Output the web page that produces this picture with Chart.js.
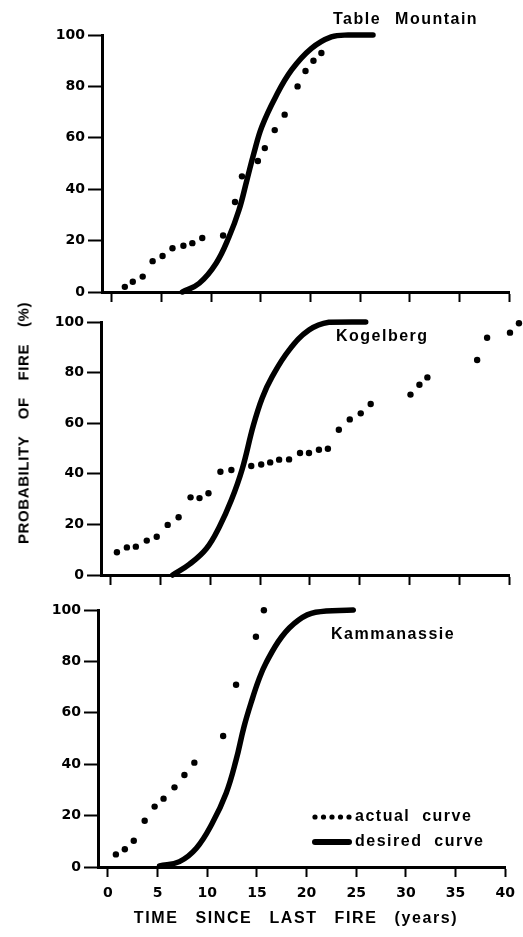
<!DOCTYPE html>
<html>
<head>
<meta charset="utf-8">
<script src="https://cdn.jsdelivr.net/npm/chart.js@4.4.1/dist/chart.umd.min.js"></script>
<style>
    body { margin: 0; background: #fff; }
    .wrap { position: relative; width: 523px; height: 937px; overflow: hidden; }
    .wrap canvas { position: absolute; left: 0; top: 0; }
    .label {
        position: absolute;
        font-family: 'Liberation Sans', Arial, sans-serif;
        font-weight: bold;
        color: #000;
        white-space: nowrap;
        line-height: 1;
    }
    .site { font-size: 16px; letter-spacing: 1.5px; word-spacing: 8px; transform: translateY(-50%); }
    #y-title {
        left: 23px; top: 423px; font-size: 15px; letter-spacing: 0.6px; word-spacing: 12px;
        transform: translate(-50%, -50%) rotate(-90deg);
    }
    #x-title {
        left: 296px; top: 918px; font-size: 16px; letter-spacing: 1.6px; word-spacing: 11px;
        transform: translate(-50%, -50%);
    }
</style>
</head>
<body>
<div class="wrap">
    <canvas id="chart-1" width="523" height="937"></canvas>
    <canvas id="chart-2" width="523" height="937"></canvas>
    <canvas id="chart-3" width="523" height="937"></canvas>
    <div class="label site" style="left:333px; top:19px">Table Mountain</div>
    <div class="label site" style="left:336px; top:336px">Kogelberg</div>
    <div class="label site" style="left:331px; top:634px">Kammanassie</div>
    <div class="label" id="y-title">PROBABILITY OF FIRE (%)</div>
    <div class="label" id="x-title">TIME SINCE LAST FIRE (years)</div>
</div>
<script>
const yearTicks = [0, 5, 10, 15, 20, 25, 30, 35, 40]
const probabilityTicks = [0, 20, 40, 60, 80, 100]

// Table Mountain
const tableMountainYears = [1.3, 2.1, 3.1, 4.1, 5.1, 6.1, 7.2, 8.1, 9.1, 11.2, 12.4, 13.1, 14.7, 15.4, 16.4, 17.4, 18.7, 19.5, 20.3, 21.1]
const tableMountainActual = [2, 4, 6, 12, 14, 17, 18, 19, 21, 22, 35, 45, 51, 56, 63, 69, 80, 86, 90, 93]
const tableMountainDesiredYears = [7.1, 8.8, 10.5, 11.8, 12.8, 13.6, 14.3, 15.1, 16.5, 18.1, 20.1, 22.1, 23.8, 26.3]
const tableMountainDesired = [0, 3.4, 11.2, 21.5, 31.9, 43.6, 54, 64.3, 76, 86.4, 94.8, 99.3, 100, 100]

// Kogelberg
const kogelbergYears = [0.6, 1.6, 2.5, 3.6, 4.6, 5.7, 6.8, 8.0, 8.9, 9.8, 11.0, 12.1, 14.1, 15.1, 16.0, 16.9, 17.9, 19.0, 19.9, 20.9, 21.8, 22.9, 24.0, 25.1, 26.1, 30.1, 31.0, 31.8, 36.8, 37.8, 40.1, 41.0]
const kogelbergActual = [9, 10.9, 11.2, 13.6, 15.1, 19.8, 22.8, 30.7, 30.4, 32.3, 40.8, 41.5, 43.1, 43.7, 44.5, 45.6, 45.7, 48.2, 48.2, 49.5, 49.9, 57.4, 61.5, 63.9, 67.6, 71.3, 75.2, 78.1, 85, 93.8, 95.8, 99.5]
const kogelbergDesiredYears = [6.2, 7.9, 9.6, 10.9, 12.1, 13.2, 14.3, 15.2, 16.2, 17.9, 19.9, 21.9, 25.6]
const kogelbergDesired = [0, 4.3, 10.5, 19.1, 29.6, 42, 59, 70, 78.4, 88.9, 96.8, 99.9, 100]

// Kammanassie
const kammanassieYears = [0.8, 1.7, 2.6, 3.7, 4.7, 5.6, 6.7, 7.7, 8.7, 11.6, 12.9, 14.9, 15.7]
const kammanassieActual = [4.9, 6.9, 10.2, 18, 23.5, 26.6, 31, 35.8, 40.6, 51, 70.9, 89.6, 99.9]
const kammanassieDesiredYears = [5.2, 7.2, 8.9, 10.5, 11.9, 12.9, 13.7, 14.5, 15.2, 15.9, 17.5, 19.2, 20.9, 24.7]
const kammanassieDesired = [0.4, 2.1, 7.3, 17, 28.7, 41.6, 54.6, 65, 73, 79.3, 89.6, 96.1, 99.1, 100]

const legendLabels = ['actual curve', 'desired curve']

const panels = [
    { id: 'chart-1', years: tableMountainYears, actual: tableMountainActual, desiredYears: tableMountainDesiredYears, desired: tableMountainDesired,
      area: { left: 102, right: 512, top: 35, bottom: 292 }, showYears: false },
    { id: 'chart-2', years: kogelbergYears, actual: kogelbergActual, desiredYears: kogelbergDesiredYears, desired: kogelbergDesired,
      area: { left: 101, right: 511, top: 322, bottom: 575 }, showYears: false },
    { id: 'chart-3', years: kammanassieYears, actual: kammanassieActual, desiredYears: kammanassieDesiredYears, desired: kammanassieDesired,
      area: { left: 98, right: 508, top: 610, bottom: 867 }, showYears: true, legend: { x: 312, y: 817 } }
]

const toPoints = (xs, ys) => xs.map((x, i) => ({ x, y: ys[i] }))

// little key drawn inside the last panel
const keyPlugin = {
    id: 'key',
    afterDraw(chart, args, opts) {
        if (!opts.at) return
        const ctx = chart.ctx
        const { x, y } = opts.at
        ctx.save()
        ctx.fillStyle = '#000'
        ctx.strokeStyle = '#000'
        for (let i = 0; i < 5; i++) {
            ctx.beginPath()
            ctx.arc(x + 3 + i * 8.5, y, 2.6, 0, Math.PI * 2)
            ctx.fill()
        }
        ctx.lineWidth = 6
        ctx.lineCap = 'round'
        ctx.beginPath()
        ctx.moveTo(x + 3, y + 25)
        ctx.lineTo(x + 37, y + 25)
        ctx.stroke()
        ctx.font = 'bold 16px "Liberation Sans"'
        ctx.letterSpacing = '1.5px'
        ctx.textBaseline = 'middle'
        ctx.fillText('actual  curve', x + 43, y)
        ctx.fillText('desired  curve', x + 43, y + 25)
        ctx.restore()
    }
}

Chart.defaults.font.family = "'DejaVu Sans', sans-serif"
Chart.defaults.font.weight = 'bold'
Chart.defaults.font.size = 14
Chart.defaults.color = '#000'

panels.forEach(panel => {
    const ctx = document.getElementById(panel.id).getContext('2d')
    const yWidth = 52
    const xHeight = panel.showYears ? 42 : 12

    new Chart(ctx, {
        type: 'scatter',
        data: {
            datasets: [{
                label: legendLabels[0],
                data: toPoints(panel.years, panel.actual),
                backgroundColor: '#000',
                borderColor: '#000',
                pointRadius: 3.2,
                // keeps the dots just past the 40-year tick from being culled
                pointHoverRadius: 14,
                pointBorderWidth: 0,
                showLine: false,
                clip: false
            }, {
                label: legendLabels[1],
                data: toPoints(panel.desiredYears, panel.desired),
                borderColor: '#000',
                borderWidth: 5.5,
                borderCapStyle: 'round',
                borderJoinStyle: 'round',
                pointRadius: 0,
                showLine: true,
                tension: 0.4,
                clip: false
            }]
        },
        options: {
            responsive: false,
            animation: false,
            events: [],
            layout: {
                padding: {
                    left: panel.area.left - yWidth,
                    right: 523 - panel.area.right,
                    top: panel.area.top,
                    bottom: 937 - panel.area.bottom - xHeight
                }
            },
            plugins: {
                legend: { display: false },
                tooltip: { enabled: false },
                key: { at: panel.legend || null }
            },
            scales: {
                x: {
                    type: 'linear',
                    bounds: 'data',
                    // range fixed here rather than via min/max so late points are not dropped
                    afterDataLimits: scale => { scale.min = -1; scale.max = 40 },
                    afterBuildTicks: scale => { scale.ticks = yearTicks.map(value => ({ value })) },
                    afterFit: scale => { scale.height = xHeight },
                    border: { display: true, color: '#000', width: 3 },
                    grid: { drawOnChartArea: false, drawTicks: true, tickLength: 10, tickWidth: 2, tickColor: '#000' },
                    ticks: { display: panel.showYears, padding: 8, maxRotation: 0, autoSkip: false }
                },
                y: {
                    type: 'linear',
                    min: 0,
                    max: 100,
                    afterBuildTicks: scale => { scale.ticks = probabilityTicks.map(value => ({ value })) },
                    afterFit: scale => { scale.width = yWidth },
                    border: { display: true, color: '#000', width: 3 },
                    grid: { drawOnChartArea: false, drawTicks: true, tickLength: 14, tickWidth: 2, tickColor: '#000' },
                    ticks: { padding: 3 }
                }
            }
        },
        plugins: [keyPlugin]
    })
})
</script>
</body>
</html>
